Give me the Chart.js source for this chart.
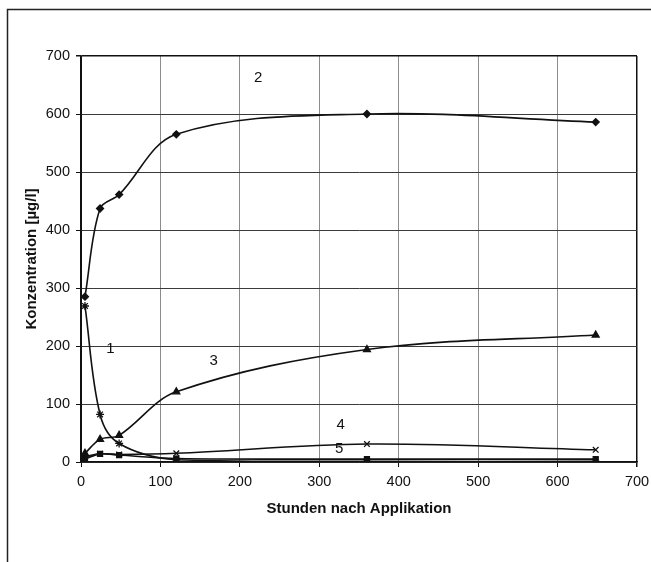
<!DOCTYPE html>
<html>
<head>
<meta charset="utf-8">
<script src="https://cdn.jsdelivr.net/npm/chart.js@4/dist/chart.umd.min.js"></script>
<style>
  html, body { margin: 0; padding: 0; background: #fff; }
  canvas { display: block; }
</style>
</head>
<body>
<canvas id="c" width="651" height="562"></canvas>
<script>
// Sampling times (hours after application)
const hours = [5, 24, 48, 120, 360, 648];

// Concentrations in µg/l for the five measured curves
const curve1 = [269, 82, 32, 4, 1, 1];
const curve2 = [285, 437, 461, 565, 600, 586];
const curve3 = [15, 39, 46, 121, 194, 219];
const curve4 = [9, 14, 13, 15, 31, 21];
const curve5 = [5, 14, 12, 6, 5, 5];

// Axis ticks
const xTicks = [0, 100, 200, 300, 400, 500, 600, 700];
const yTicks = [0, 100, 200, 300, 400, 500, 600, 700];

// Curve numbers written next to the lines (data units)
const curveTags = [
  { text: '1', x: 37, y: 195 },
  { text: '2', x: 223, y: 663 },
  { text: '3', x: 167, y: 175 },
  { text: '4', x: 327, y: 64 },
  { text: '5', x: 325, y: 22 }
];

const FONT = "'Liberation Sans', Arial, Helvetica, sans-serif";
Chart.defaults.font.family = FONT;
Chart.defaults.color = '#111';

const pts = (ys) => hours.map((h, i) => ({ x: h, y: ys[i] }));

function series(label, ys, style, radius) {
  return {
    label,
    data: pts(ys),
    showLine: true,
    borderColor: '#111',
    backgroundColor: '#111',
    borderWidth: 1.6,
    pointStyle: style,
    pointRadius: radius,
    pointBorderColor: '#111',
    pointBackgroundColor: '#111',
    pointBorderWidth: 1.3,
    tension: 0.35,
    cubicInterpolationMode: 'default'
  };
}

// Outer frame around the whole figure
const framePlugin = {
  id: 'frame',
  beforeDraw(chart) {
    const ctx = chart.ctx;
    ctx.save();
    ctx.fillStyle = '#fff';
    ctx.fillRect(0, 0, chart.width, chart.height);
    ctx.strokeStyle = '#222';
    ctx.lineWidth = 1.5;
    ctx.strokeRect(7.5, 9.5, chart.width + 20, chart.height + 20);
    ctx.restore();
  }
};

// Curve numbers
const tagPlugin = {
  id: 'tags',
  afterDatasetsDraw(chart) {
    const { ctx, scales } = chart;
    ctx.save();
    ctx.fillStyle = '#111';
    ctx.font = '15px ' + FONT;
    ctx.textAlign = 'center';
    ctx.textBaseline = 'middle';
    curveTags.forEach(t => {
      ctx.fillText(t.text, scales.x.getPixelForValue(t.x), scales.y.getPixelForValue(t.y));
    });
    ctx.restore();
  }
};

new Chart(document.getElementById('c'), {
  type: 'scatter',
  data: {
    datasets: [
      series('1', curve1, 'star', 4),
      series('2', curve2, 'rectRot', 3.5),
      series('3', curve3, 'triangle', 4),
      series('4', curve4, 'crossRot', 4),
      series('5', curve5, 'rect', 3.5)
    ]
  },
  options: {
    responsive: false,
    devicePixelRatio: 1,
    animation: false,
    layout: { padding: { left: 0, top: 56, right: 14, bottom: 0 } },
    plugins: { legend: { display: false }, tooltip: { enabled: false } },
    scales: {
      x: {
        type: 'linear',
        min: 0, max: 700,
        afterFit(scale) { scale.height = 100; scale.paddingLeft = 0; scale.paddingRight = 0; },
        afterBuildTicks(scale) { scale.ticks = xTicks.map(v => ({ value: v })); },
        ticks: { padding: 6, font: { size: 14.5 }, color: '#111', maxRotation: 0 },
        grid: {
          color: ctx => (ctx.tick && (ctx.tick.value === 700 || ctx.tick.value === 0)) ? '#111' : '#8c8c8c',
          lineWidth: ctx => (ctx.tick && ctx.tick.value === 700) ? 1.5 : 1,
          tickColor: '#111',
          tickLength: 5
        },
        border: { color: '#111', width: 1.5 },
        title: {
          display: true,
          text: 'Stunden nach Applikation',
          font: { size: 15, weight: 'bold' },
          color: '#111',
          padding: { top: 0, bottom: 44 }
        }
      },
      y: {
        type: 'linear',
        min: 0, max: 700,
        afterFit(scale) { scale.width = 81; scale.paddingTop = 0; scale.paddingBottom = 0; },
        afterBuildTicks(scale) { scale.ticks = yTicks.map(v => ({ value: v })); },
        ticks: { padding: 6, font: { size: 14.5 }, color: '#111' },
        grid: {
          color: ctx => (ctx.tick && ctx.tick.value === 700) ? '#111' : '#3a3a3a',
          lineWidth: ctx => (ctx.tick && ctx.tick.value === 700) ? 1.5 : 1,
          tickColor: '#111',
          tickLength: 5
        },
        border: { color: '#111', width: 1.5 },
        title: {
          display: true,
          text: 'Konzentration [µg/l]',
          font: { size: 15, weight: 'bold' },
          color: '#111',
          padding: { top: 23, bottom: 0 }
        }
      }
    }
  },
  plugins: [framePlugin, tagPlugin]
});
</script>
</body>
</html>
